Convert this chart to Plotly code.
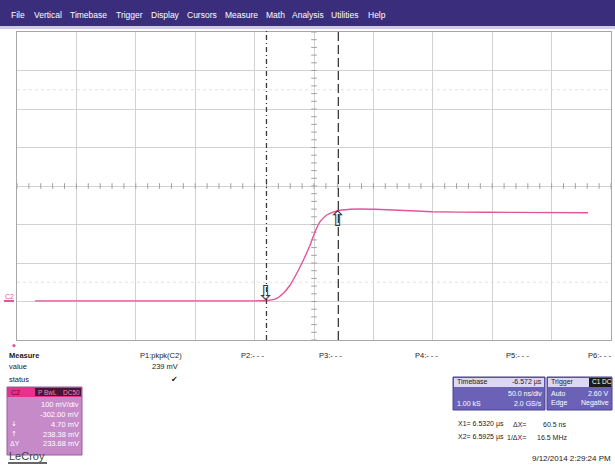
import numpy as np
import plotly.graph_objects as go

# ---- data (time in µs, voltage in V) ----
trace_t = [6.3372, 6.5182, 6.5322, 6.5407, 6.5462, 6.5519, 6.5575, 6.5631, 6.5687,
           6.5729, 6.5771, 6.5828, 6.5912, 6.6024, 6.6108, 6.6234, 6.6714, 6.7160, 6.8027]
trace_v = [0.0035, 0.0035, 0.0045, 0.0104, 0.0233, 0.0449, 0.0753, 0.1098, 0.1488,
           0.1833, 0.2093, 0.2267, 0.2371, 0.2415, 0.2423, 0.2415, 0.2353, 0.2337, 0.2327]

cursor_x1 = 6.5320
cursor_x2 = 6.5925

center_t = 6.572      # µs (timebase delay -6.572 µs)
t_per_div = 0.05      # 50 ns/div
offset_v = 0.302      # -302 mV offset
v_per_div = 0.1       # 100 mV/div

menu_items = ["File", "Vertical", "Timebase", "Trigger", "Display", "Cursors",
              "Measure", "Math", "Analysis", "Utilities", "Help"]
menu_x = [10, 33, 69, 115, 150, 186, 224, 265, 291, 330, 367]

x_range = [center_t - 5 * t_per_div, center_t + 5 * t_per_div]
y_range = [offset_v - 4 * v_per_div, offset_v + 4 * v_per_div]

# ---- figure geometry helpers (pixel -> paper) ----
L, T, W, H = 17, 32, 594, 308
def px(x): return (x - L) / W
def py(y): return (T + H - y) / H

FONT = "Liberation Sans, Arial, sans-serif"
TRACE = "#e2559c"

fig = go.Figure()

# center graticule ticks
tick_x = np.arange(x_range[0], x_range[1] + 1e-9, t_per_div / 5)
fig.add_trace(go.Scatter(x=tick_x, y=[offset_v] * len(tick_x), mode="markers",
                         marker=dict(symbol="line-ns", size=4, line=dict(width=1, color="#a0a0a0")),
                         hoverinfo="skip", showlegend=False))
tick_y = np.arange(y_range[0], y_range[1] + 1e-9, v_per_div / 5)
fig.add_trace(go.Scatter(x=[center_t] * len(tick_y), y=tick_y, mode="markers",
                         marker=dict(symbol="line-ew", size=4, line=dict(width=1, color="#a0a0a0")),
                         hoverinfo="skip", showlegend=False))

# faint dotted half-division rows
for k in (-2.5, 2.5):
    fig.add_shape(type="line", xref="x", yref="y", x0=x_range[0], x1=x_range[1],
                  y0=offset_v + k * v_per_div, y1=offset_v + k * v_per_div,
                  line=dict(color="#e2e2e2", width=1, dash="dot"), layer="below")

# cursors
fig.add_shape(type="line", xref="x", yref="paper", x0=cursor_x1, x1=cursor_x1, y0=0, y1=py(29),
              line=dict(color="#3a3a3a", width=1.3, dash="5px,3px,1px,3px"))
fig.add_shape(type="line", xref="x", yref="paper", x0=cursor_x2, x1=cursor_x2, y0=0, y1=py(29),
              line=dict(color="#3a3a3a", width=1.3, dash="9px,4px"))

# waveform
fig.add_trace(go.Scatter(x=trace_t, y=trace_v, mode="lines",
                         line=dict(color=TRACE, width=1.4, shape="spline", smoothing=0.6),
                         hoverinfo="skip", showlegend=False))

# cursor markers on trace
y1v = float(np.interp(cursor_x1, trace_t, trace_v))
y2v = float(np.interp(cursor_x2, trace_t, trace_v))
fig.add_annotation(x=cursor_x1, y=y1v, xref="x", yref="y", text="⇩", showarrow=False,
                   yanchor="bottom", yshift=-6, font=dict(family="DejaVu Sans", size=21, color="#333"))
fig.add_annotation(x=cursor_x2, y=y2v, xref="x", yref="y", text="⇧", showarrow=False,
                   yanchor="top", yshift=6, font=dict(family="DejaVu Sans", size=21, color="#333"))

def rect(x0, y0, x1, y1, fill, line=None, lw=0):
    fig.add_shape(type="rect", xref="paper", yref="paper", x0=px(x0), x1=px(x1),
                  y0=py(y1), y1=py(y0), fillcolor=fill,
                  line=dict(color=line or fill, width=lw), layer="above")

def text(x, y, s, size=7.5, color="#222", anchor="left", bold=False, bg=None, family=FONT):
    if bold:
        s = "<b>" + s + "</b>"
    fig.add_annotation(x=px(x), y=py(y), xref="paper", yref="paper", text=s, showarrow=False,
                       xanchor=anchor, yanchor="middle", font=dict(family=family, size=size, color=color),
                       bgcolor=bg, borderpad=0)

# menu bar
rect(0, 0, 615, 26, "#3a2d7c")
rect(0, 26, 615, 29, "#cfcaea")
for name, mx in zip(menu_items, menu_x):
    text(mx, 15, name, size=8.5, color="#ffffff")

# channel label left
text(4, 296, "C2", size=7, color=TRACE)
fig.add_shape(type="line", xref="paper", yref="paper", x0=px(4), x1=px(14), y0=py(301), y1=py(301),
              line=dict(color=TRACE, width=2))
text(14, 345, "◆", size=5, color=TRACE, anchor="center", family="DejaVu Sans")

# measure table
text(8, 355, "Measure", bold=True)
text(183, 355, "P1:pkpk(C2)", anchor="right")
text(240, 355, "P2:- - -")
text(318, 355, "P3:- - -")
text(414, 355, "P4:- - -")
text(505, 355, "P5:- - -")
text(612, 355, "P6:- - -", anchor="right")
text(8, 367, "value")
text(179, 367, "239 mV", anchor="right")
text(8, 379, "status")
text(174, 379, "✔", size=8, anchor="center", family="DejaVu Sans")

# channel panel
rect(7, 387, 82, 455, "#c68ac9", line="#9a5a9e", lw=1)
rect(7, 387, 82, 397, "#e8318a")
text(10, 392, "C2", size=7, color="#5a0a30")
rect(35, 388, 81, 396, "#4a1535")
text(37, 392, "P", size=6.5, color="#f08ac0")
text(43, 392, "BwL", size=6.5, color="#f08ac0")
text(62, 392, "DC50", size=6.5, color="#f08ac0")
for yy, s in zip([404, 414, 424, 434, 444],
                 ["100 mV/div", "-302.00 mV", "4.70 mV", "238.38 mV", "233.68 mV"]):
    text(80, yy, s, color="#ffffff", anchor="right")
text(10, 424, "↓", color="#ffffff", family="DejaVu Sans", size=7)
text(10, 434, "↑", color="#ffffff", family="DejaVu Sans", size=7)
text(9, 444, "ΔY", color="#ffffff", size=7)

# LeCroy logo
text(8, 456, "LeCroy", size=11, color="#444")
fig.add_shape(type="line", xref="paper", yref="paper", x0=px(8), x1=px(47), y0=py(463), y1=py(463),
              line=dict(color="#666", width=2))

# timebase panel
rect(453, 377, 545, 410, "#6b62b8", line="#4a4190", lw=1)
rect(454, 378, 544, 387, "#dcd8f0")
text(456, 382, "Timebase", size=7, color="#222")
text(543, 382, "-6.572 µs", size=7, color="#222", anchor="right")
text(543, 393, "50.0 ns/div", size=7, color="#ffffff", anchor="right")
text(456, 403, "1.00 kS", size=7, color="#ffffff")
text(543, 403, "2.0 GS/s", size=7, color="#ffffff", anchor="right")

# trigger panel
rect(547, 377, 612, 410, "#6b62b8", line="#4a4190", lw=1)
rect(548, 378, 611, 387, "#dcd8f0")
text(550, 382, "Trigger", size=7, color="#222")
rect(589, 378, 611, 387, "#1a1a1a")
text(591, 382, "C1", size=6.5, color="#ffffff")
text(601, 382, "DC", size=6.5, color="#ffffff")
text(550, 393, "Auto", size=7, color="#ffffff")
text(610, 393, "2.60 V", size=7, color="#ffffff", anchor="right")
text(550, 403, "Edge", size=7, color="#ffffff")
text(610, 403, "Negative", size=7, color="#ffffff", anchor="right")

# cursor readouts
text(457, 424, "X1= 6.5320 µs", size=7)
text(527, 424, "ΔX=", size=7, anchor="right")
text(567, 424, "60.5 ns", size=7, anchor="right")
text(457, 437, "X2= 6.5925 µs", size=7)
text(527, 437, "1/ΔX=", size=7, anchor="right")
text(568, 437, "16.5 MHz", size=7, anchor="right")

# date
text(612, 459, "9/12/2014 2:29:24 PM", size=8, color="#222", anchor="right")

fig.update_xaxes(range=x_range, tick0=x_range[0], dtick=t_per_div, showgrid=True,
                 gridcolor="#d2d2d2", gridwidth=1, showticklabels=False, ticks="",
                 zeroline=False, showline=True, mirror=True, linecolor="#a8a8a8", linewidth=1,
                 fixedrange=True)
fig.update_yaxes(range=y_range, tick0=y_range[0], dtick=v_per_div, showgrid=True,
                 gridcolor="#d2d2d2", gridwidth=1, showticklabels=False, ticks="",
                 zeroline=False, showline=True, mirror=True, linecolor="#a8a8a8", linewidth=1,
                 fixedrange=True)

fig.update_layout(width=615, height=465, margin=dict(l=L, r=615 - L - W, t=T, b=465 - T - H),
                  paper_bgcolor="#ffffff", plot_bgcolor="#ffffff", showlegend=False,
                  font=dict(family=FONT))

fig.write_html("out.html", config={"displayModeBar": False},
               post_script="document.body.style.margin='0';")
